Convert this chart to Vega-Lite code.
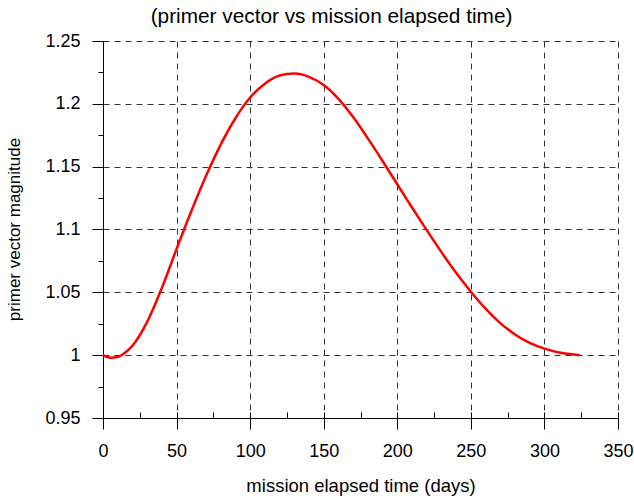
{
  "$schema": "https://vega.github.io/schema/vega-lite/v6.json",
  "width": 515,
  "height": 377,
  "autosize": "none",
  "padding": {"left": 103, "top": 41, "right": 16, "bottom": 81},
  "background": "white",
  "config": {
    "view": {"stroke": null},
    "font": "Liberation Sans",
    "axis": {
      "labelFont": "Liberation Sans",
      "titleFont": "Liberation Sans",
      "labelColor": "#000000",
      "titleColor": "#000000",
      "titleFontWeight": "normal",
      "domainColor": "#000000",
      "tickColor": "#000000",
      "domainWidth": 1,
      "tickWidth": 1,
      "labelFlush": false
    }
  },
  "title": {
    "text": "(primer vector vs mission elapsed time)",
    "font": "Liberation Sans",
    "fontSize": 20.8,
    "fontWeight": "normal",
    "color": "#000000",
    "anchor": "middle",
    "dx": -29,
    "offset": 4
  },
  "data": {
    "values": [
      {"t": 0, "p": 1.0},
      {"t": 5, "p": 0.998},
      {"t": 10, "p": 0.9985},
      {"t": 15, "p": 1.002},
      {"t": 20, "p": 1.0075},
      {"t": 30, "p": 1.0265},
      {"t": 40, "p": 1.0535},
      {"t": 50, "p": 1.0845},
      {"t": 60, "p": 1.1145},
      {"t": 70, "p": 1.1425},
      {"t": 80, "p": 1.1675},
      {"t": 90, "p": 1.1885},
      {"t": 100, "p": 1.205},
      {"t": 110, "p": 1.216},
      {"t": 120, "p": 1.2225},
      {"t": 130, "p": 1.2241},
      {"t": 140, "p": 1.2215},
      {"t": 150, "p": 1.215},
      {"t": 160, "p": 1.204},
      {"t": 170, "p": 1.1895},
      {"t": 180, "p": 1.1725},
      {"t": 190, "p": 1.1545},
      {"t": 200, "p": 1.136},
      {"t": 210, "p": 1.1175},
      {"t": 220, "p": 1.0995},
      {"t": 230, "p": 1.082},
      {"t": 240, "p": 1.0655},
      {"t": 250, "p": 1.0505},
      {"t": 260, "p": 1.037},
      {"t": 270, "p": 1.0255},
      {"t": 280, "p": 1.0165},
      {"t": 290, "p": 1.0098},
      {"t": 300, "p": 1.0052},
      {"t": 310, "p": 1.0022},
      {"t": 320, "p": 1.0006},
      {"t": 324, "p": 1.0}
    ]
  },
  "layer": [
    {
      "mark": {"type": "line", "strokeOpacity": 0},
      "encoding": {
        "x": {
          "field": "t", "type": "quantitative",
          "scale": {"domain": [0, 350], "nice": false, "zero": false},
          "axis": {
            "orient": "bottom",
            "values": [25, 50, 75, 100, 125, 150, 175, 200, 225, 250, 275, 300, 325, 350],
            "labels": false, "grid": false, "domain": false, "title": null,
            "tickSize": -6
          }
        },
        "y": {
          "field": "p", "type": "quantitative",
          "scale": {"domain": [0.95, 1.25], "nice": false, "zero": false},
          "axis": {
            "orient": "left",
            "values": [0.975, 1.025, 1.075, 1.125, 1.175, 1.225],
            "labels": false, "grid": false, "domain": false, "title": null,
            "tickSize": 5
          }
        }
      }
    },
    {
      "mark": {"type": "line", "color": "#ff0000", "strokeWidth": 2.5, "interpolate": "monotone"},
      "encoding": {
        "x": {
          "field": "t", "type": "quantitative",
          "scale": {"domain": [0, 350], "nice": false, "zero": false},
          "axis": {
            "orient": "bottom",
            "values": [0, 50, 100, 150, 200, 250, 300, 350],
            "title": "mission elapsed time (days)",
            "titleFontSize": 18.5,
            "labelFontSize": 18,
            "tickSize": 11,
            "labelPadding": 13,
            "grid": true,
            "gridColor": "#333333",
            "gridDash": [6, 5],
            "gridWidth": 1,
            "titleY": 67,
            "titleBaseline": "middle"
          }
        },
        "y": {
          "field": "p", "type": "quantitative",
          "scale": {"domain": [0.95, 1.25], "nice": false, "zero": false},
          "axis": {
            "orient": "left",
            "values": [0.95, 1, 1.05, 1.1, 1.15, 1.2, 1.25],
            "format": "~g",
            "title": "primer vector magnitude",
            "titleFontSize": 17,
            "labelFontSize": 18,
            "tickSize": 11,
            "labelPadding": 12,
            "grid": true,
            "gridColor": "#333333",
            "gridDash": [6, 5],
            "gridWidth": 1,
            "titleX": -89,
            "titleY": 188,
            "titleBaseline": "middle"
          }
        }
      }
    }
  ],
  "resolve": {"scale": {"x": "independent", "y": "independent"}, "axis": {"x": "independent", "y": "independent"}}
}
